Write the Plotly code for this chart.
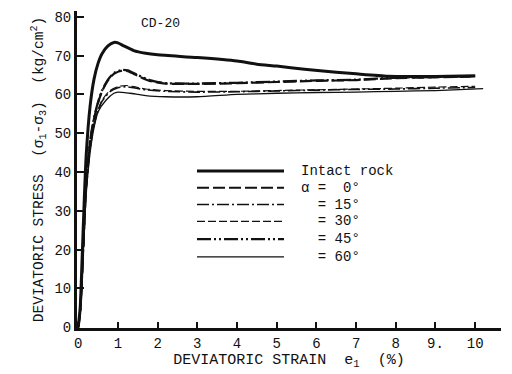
import plotly.graph_objects as go

# Deviatoric stress-strain curves, specimen CD-20
strain_intact = [0, 0.05, 0.1, 0.15, 0.2, 0.3, 0.4, 0.5, 0.6, 0.75, 0.9, 1.0, 1.15, 1.4, 1.7, 2.0, 3.0, 4.0, 4.5, 5.0, 5.7, 6.5, 7.0, 7.8, 8.5, 9.0, 10.0]
stress_intact = [0, 5, 18, 32, 44, 57, 64, 68, 70.5, 72.5, 73.4, 73.3, 72.5, 71.3, 70.6, 70.2, 69.5, 68.6, 67.8, 67.3, 66.5, 65.7, 65.3, 64.7, 64.6, 64.6, 64.8]

strain_a0 = [0, 0.05, 0.1, 0.15, 0.2, 0.3, 0.4, 0.5, 0.6, 0.75, 0.9, 1.1, 1.25, 1.5, 1.8, 2.2, 3.0, 4.0, 5.0, 6.0, 7.0, 8.0, 9.0, 10.0]
stress_a0 = [0, 4, 14, 26, 37, 47.8, 53.8, 57.8, 60.8, 63.6, 65.3, 66.1, 66.0, 64.8, 63.5, 62.8, 62.7, 62.9, 63.2, 63.5, 63.7, 64.2, 64.4, 64.6]

strain_a15 = [0, 0.05, 0.1, 0.15, 0.2, 0.3, 0.4, 0.5, 0.6, 0.8, 1.0, 1.2, 1.4, 1.7, 2.2, 3.0, 4.0, 5.0, 6.0, 7.0, 8.0, 9.0, 10.0]
stress_a15 = [0, 4, 13, 25, 35, 46, 52.2, 55.7, 58.2, 60.7, 61.7, 62.0, 61.7, 61.2, 60.8, 60.6, 60.7, 60.9, 61.1, 61.3, 61.4, 61.6, 61.8]

strain_a30 = [0, 0.05, 0.1, 0.15, 0.2, 0.3, 0.4, 0.5, 0.6, 0.8, 1.0, 1.2, 1.4, 1.7, 2.2, 3.0, 4.0, 5.0, 6.0, 7.0, 8.0, 9.0, 10.0]
stress_a30 = [0, 4, 13, 25, 35, 46, 52.5, 56, 58.5, 61, 62, 62.3, 62, 61.4, 61, 60.8, 60.8, 61, 61.2, 61.4, 61.6, 61.9, 62.1]

strain_a45 = [0, 0.05, 0.1, 0.15, 0.2, 0.3, 0.4, 0.5, 0.6, 0.75, 0.9, 1.1, 1.25, 1.5, 1.8, 2.2, 3.0, 4.0, 5.0, 6.0, 7.0, 8.0, 9.0, 10.0]
stress_a45 = [0, 4, 14, 26, 37, 48, 54, 58, 61, 63.8, 65.5, 66.3, 66.2, 65, 63.7, 62.9, 62.8, 63, 63.3, 63.6, 63.8, 64.3, 64.5, 64.7]

strain_a60 = [0, 0.05, 0.1, 0.15, 0.2, 0.3, 0.4, 0.5, 0.7, 0.9, 1.0, 1.3, 1.7, 2.2, 3.0, 4.0, 5.0, 6.0, 7.0, 8.0, 9.0, 10.2]
stress_a60 = [0, 4, 13, 24, 34, 45, 51.5, 55.5, 58.5, 60.3, 60.6, 60.3, 59.7, 59.4, 59.4, 60, 60.3, 60.5, 60.6, 60.8, 61, 61.5]

legend_labels = ["Intact rock", "\u03b1 =\u00a0\u00a00\u00b0", "\u00a0\u00a0= 15\u00b0",
                 "\u00a0\u00a0= 30\u00b0", "\u00a0\u00a0= 45\u00b0", "\u00a0\u00a0= 60\u00b0"]
x_ticks = [0, 1, 2, 3, 4, 5, 6, 7, 8, 9, 10]
x_tick_text = ["0", "1", "2", "3", "4", "5", "6", "7", "8", "9.", "10"]
y_ticks = [0, 10, 20, 30, 40, 50, 60, 70, 80]

FONT = "Liberation Mono, Courier New, monospace"
INK = "#111111"

styles = [
    dict(width=3.0, dash="solid"),
    dict(width=2.2, dash="12px,4px"),
    dict(width=1.6, dash="12px,3px,2px,3px"),
    dict(width=1.2, dash="8px,3px"),
    dict(width=2.3, dash="14px,3px,2px,3px,2px,3px"),
    dict(width=1.3, dash="solid"),
]

series = [
    (strain_intact, stress_intact),
    (strain_a0, stress_a0),
    (strain_a15, stress_a15),
    (strain_a30, stress_a30),
    (strain_a45, stress_a45),
    (strain_a60, stress_a60),
]

fig = go.Figure()
for (xs, ys), st, name in zip(series, styles, legend_labels):
    fig.add_trace(go.Scatter(
        x=xs, y=ys, mode="lines", name=name, showlegend=False,
        line=dict(color=INK, width=st["width"], dash=st["dash"], shape="spline", smoothing=0.6),
    ))

# Hand-placed key: line samples with their labels
W, H = 512, 374
ml, mr, mt, mb = 77, 11, 10, 43
pw, ph = W - ml - mr, H - mt - mb
row_y = [172, 189, 206, 223, 241, 259]
sample_x0, sample_x1 = 197, 284
label_x = 299

def px_to_paper_x(px):
    return (px - ml) / pw

def px_to_paper_y(py):
    return 1 - (py - mt) / ph

shapes = []
annotations = []
for ry, st, lab in zip(row_y, styles, legend_labels):
    shapes.append(dict(
        type="line", xref="paper", yref="paper",
        x0=px_to_paper_x(sample_x0), x1=px_to_paper_x(sample_x1),
        y0=px_to_paper_y(ry), y1=px_to_paper_y(ry),
        line=dict(color=INK, width=st["width"], dash=st["dash"]),
    ))
    annotations.append(dict(
        xref="paper", yref="paper", x=px_to_paper_x(label_x), y=px_to_paper_y(ry),
        xanchor="left", yanchor="middle", text=lab, showarrow=False,
        font=dict(family=FONT, size=14, color=INK),
    ))

annotations.append(dict(
    xref="paper", yref="paper", x=px_to_paper_x(160), y=px_to_paper_y(23),
    xanchor="center", yanchor="middle", text="CD-20", showarrow=False,
    font=dict(family=FONT, size=13, color=INK),
))

fig.update_layout(
    width=W, height=H,
    margin=dict(l=ml, r=mr, t=mt, b=mb),
    paper_bgcolor="white", plot_bgcolor="white",
    font=dict(family=FONT, size=14, color=INK),
    shapes=shapes, annotations=annotations,
    xaxis=dict(
        range=[-0.03, 10.65], tickvals=x_ticks, ticktext=x_tick_text,
        showgrid=False, zeroline=False, showline=True, linecolor=INK, linewidth=3,
        ticks="inside", ticklen=6, tickwidth=2, tickcolor=INK,
        tickfont=dict(family=FONT, size=14),
        title=dict(text="DEVIATORIC STRAIN\u00a0\u00a0e<sub>1</sub>\u00a0\u00a0(%)",
                   font=dict(family=FONT, size=15), standoff=2),
    ),
    yaxis=dict(
        range=[-0.2, 81.5], tickvals=y_ticks,
        showgrid=False, zeroline=False, showline=True, linecolor=INK, linewidth=3,
        ticks="inside", ticklen=7, tickwidth=2, tickcolor=INK,
        tickfont=dict(family=FONT, size=14),
        title=dict(text="DEVIATORIC STRESS\u00a0\u00a0(\u03c3<sub>1</sub>-\u03c3<sub>3</sub>)\u00a0\u00a0(kg/cm<sup>2</sup>)",
                   font=dict(family=FONT, size=14.5), standoff=8),
    ),
)

fig.write_html("out.html")
